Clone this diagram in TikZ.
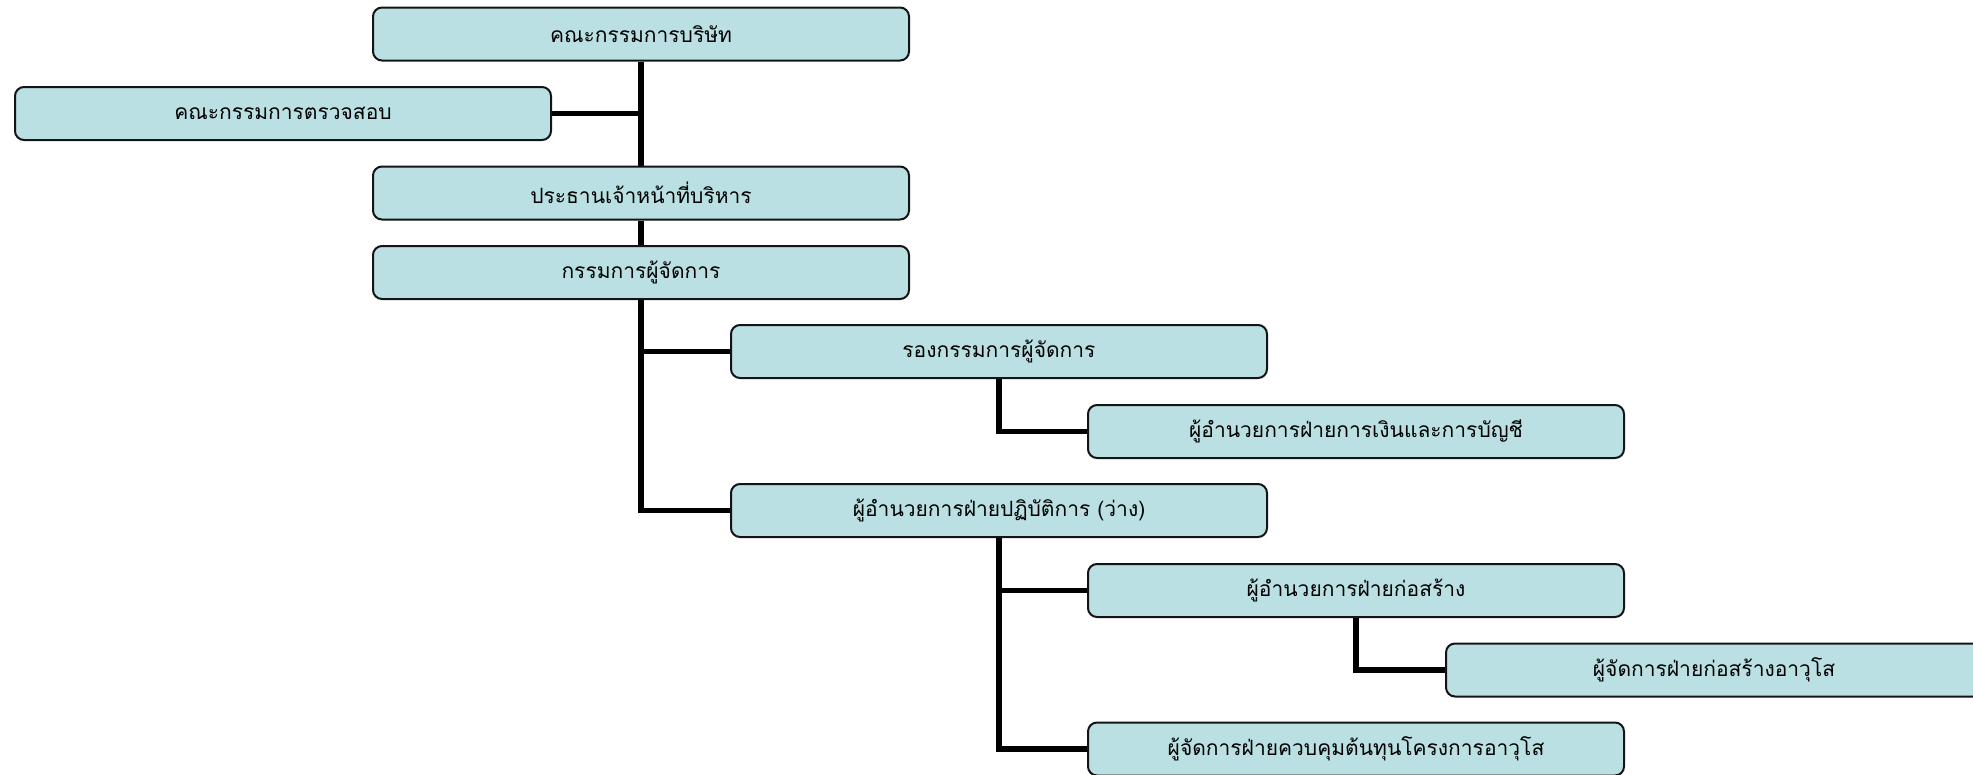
\documentclass[tikz,border=0pt]{standalone}
\usepackage{fontspec}
\newfontfamily\thaifont[Script=Thai]{Loma}
\usetikzlibrary{backgrounds}
\definecolor{boxfill}{RGB}{186,224,227}
\definecolor{boxline}{RGB}{20,20,20}
\tikzset{
  orgbox/.style={draw=boxline, line width=2pt, fill=boxfill, rounded corners=9pt,
    minimum width=536pt, minimum height=53pt, inner sep=0pt,
    font=\thaifont\fontsize{21}{24}\selectfont},
  conn/.style={line width=5.8pt, black, line join=miter, line cap=butt}
}
\begin{document}
\begin{tikzpicture}[x=1pt,y=-1pt]
\useasboundingbox (0,0) rectangle (1973,774);
\clip (0,0) rectangle (1973,774);
\node[orgbox] (b1) at (641,34) {คณะกรรมการบริษัท};
\node[orgbox] (b2) at (283,113.5) {คณะกรรมการตรวจสอบ};
\node[orgbox] (b3) at (641,193) {ประธานเจ้าหน้าที่บริหาร};
\node[orgbox] (b4) at (641,272.5) {กรรมการผู้จัดการ};
\node[orgbox] (b5) at (999,351.5) {รองกรรมการผู้จัดการ};
\node[orgbox] (b6) at (1356,431.5) {ผู้อำนวยการฝ่ายการเงินและการบัญชี};
\node[orgbox] (b7) at (999,510.5) {ผู้อำนวยการฝ่ายปฏิบัติการ (ว่าง)};
\node[orgbox] (b8) at (1356,590.5) {ผู้อำนวยการฝ่ายก่อสร้าง};
\node[orgbox] (b9) at (1714,670) {ผู้จัดการฝ่ายก่อสร้างอาวุโส};
\node[orgbox] (b10) at (1356,749) {ผู้จัดการฝ่ายควบคุมต้นทุนโครงการอาวุโส};
\begin{scope}[on background layer]
\draw[conn] (b1.south) -- (b3.north);
\draw[conn] (b2.east) -- (b2.east -| b1.south);
\draw[conn] (b3.south) -- (b4.north);
\draw[conn] (b4.south) |- (b7.west);
\draw[conn] (b4.south |- b5.west) -- (b5.west);
\draw[conn] (b5.south) |- (b6.west);
\draw[conn] (b7.south) |- (b10.west);
\draw[conn] (b7.south |- b8.west) -- (b8.west);
\draw[conn] (b8.south) |- (b9.west);
\end{scope}
\end{tikzpicture}
\end{document}
